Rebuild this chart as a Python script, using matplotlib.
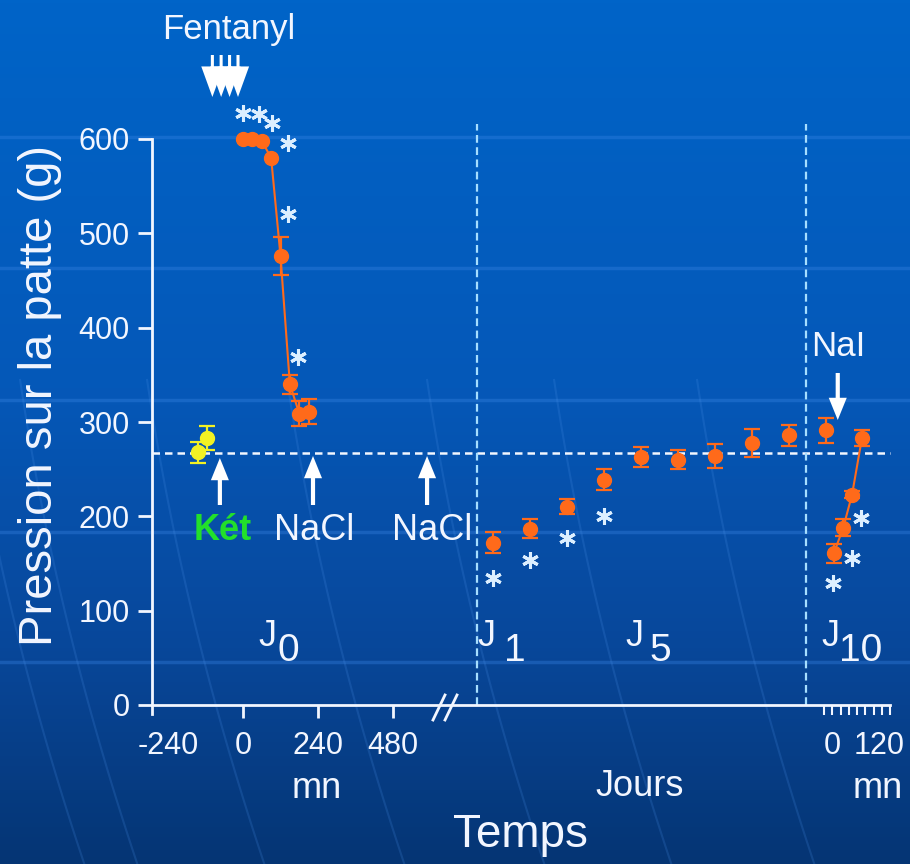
import numpy as np
import matplotlib.pyplot as plt
from matplotlib.patches import FancyArrowPatch, ArrowStyle
from matplotlib.colors import LinearSegmentedColormap

plt.rcParams['font.family'] = ['Liberation Sans', 'DejaVu Sans']

# ---- données (g) ----
# J0 : temps en minutes
ket_min = [-144, -115]
ket_val = [268, 283]
ket_err = [11, 13]

fent_min = [0, 30, 60, 90, 120, 150, 180, 210]
fent_val = [600, 600, 598, 580, 476, 340, 309, 311]
fent_err = [0, 0, 0, 0, 20, 10, 13, 13]
fent_star_min = [0, 51, 93, 144, 144, 176]
fent_star_val = [628, 627, 617, 596, 520, 369]

# J1 .. J10 : jours
days = [1, 2, 3, 4, 5, 6, 7, 8, 9, 10]
day_val = [172, 187, 210, 239, 263, 260, 264, 278, 286, 291]
day_err = [11, 10, 8, 11, 11, 10, 13, 15, 11, 13]
day_star = [1, 2, 3, 4]
day_star_val = [135, 154, 177, 200]

# J10 après NaI : minutes
nai_min = [18, 35, 51, 69]
nai_val = [161, 188, 223, 283]
nai_err = [10, 9, 4, 8]
nai_star_min = [16, 51, 67]
nai_star_val = [129, 156, 198]

baseline = 267

# injections
fent_inj = [-98, -70, -43, -16]
ket_inj = -74
nacl_inj = [224, 589]
nai_inj = 25

j0_ticks = [-240, 0, 240, 480]
j10_ticks = [0, 15, 30, 45, 60, 75, 90, 105, 120]
y_ticks = [0, 100, 200, 300, 400, 500, 600]

# ---- axe des temps composite (unités = pixels) ----
def x_mn(m):
    return 243 + np.asarray(m, float) * 75 / 240

def x_day(d):
    return 493 + (np.asarray(d, float) - 1) * 37

def x_j10(m):
    return 824 + np.asarray(m, float) * 66 / 120

W, H = 910, 864
Y0, K = 705, 566 / 600

def gy(py):
    return (Y0 - py) / K

WHITE = '#f2f6ff'
ORANGE = '#ff6a1a'
YELLOW = '#f2f224'
STAR = '#dcefff'

fig = plt.figure(figsize=(W / 100, H / 100), dpi=100)
ax = fig.add_axes([0, 0, 1, 1])
ax.set_xlim(0, W)
ax.set_ylim(gy(H), gy(0))

# fond dégradé
cmap = LinearSegmentedColormap.from_list('bg', [(0, '#0064c8'), (0.45, '#0558b8'),
                                               (0.75, '#08479a'), (1, '#053574')])
grad = np.linspace(0, 1, 256).reshape(-1, 1)
ax.imshow(grad, cmap=cmap, aspect='auto', extent=[0, W, gy(H), gy(0)],
          origin='upper', zorder=0)
for py in [137, 268, 400, 532, 662]:
    ax.axhline(gy(py), color='#3a86e6', alpha=0.35, lw=2.5, zorder=0.5)
for x0 in [40, 93, 220, 360, 500, 627, 770]:
    yy = np.linspace(380, H, 60)
    xx = x0 + (yy - 720) * 0.28 + ((yy - 720) / 144) ** 2 * 4
    ax.plot(xx, gy(yy), color='#4a90e8', alpha=0.2, lw=1.5, zorder=0.6)

# axes
for s in ['top', 'right']:
    ax.spines[s].set_visible(False)
ax.spines['left'].set_position(('data', 152))
ax.spines['left'].set_bounds(gy(714), 600)
ax.spines['bottom'].set_position(('data', 0))
ax.spines['bottom'].set_bounds(152, 890)
for s in ['left', 'bottom']:
    ax.spines[s].set_color(WHITE)
    ax.spines[s].set_linewidth(2)
    ax.spines[s].set_zorder(3)

ax.set_yticks(y_ticks)
ax.set_yticklabels([str(v) for v in y_ticks])
ax.set_xticks(x_mn(j0_ticks))
ax.set_xticklabels([str(v) for v in j0_ticks])
ax.set_xticks(x_j10(j10_ticks), minor=True)
ax.tick_params(axis='y', direction='out', length=10, width=2, color=WHITE,
               labelcolor=WHITE, labelsize=22, pad=6)
ax.tick_params(axis='x', which='major', direction='out', length=9, width=2,
               color=WHITE, labelcolor=WHITE, labelsize=22, pad=10)
ax.tick_params(axis='x', which='minor', direction='out', length=7, width=1.5,
               color=WHITE)
ax.xaxis.get_major_ticks()[0].tick1line.set_visible(False)

# lignes pointillées
ax.plot([152, 890], [baseline, baseline], color=WHITE, lw=1.8,
        ls=(0, (3, 2)), zorder=2)
for d in [0.57, 9.46]:
    ax.plot([x_day(d), x_day(d)], [0, gy(124)], color='#a6deff', lw=1.6,
            ls=(0, (3.5, 2)), zorder=2)

# coupure //
for dx in [0, 12]:
    ax.plot([433 + dx, 445 + dx], [gy(720), gy(695)], color=WHITE, lw=2, zorder=4)


def draw_series(x, y, err, color, line=True):
    x = np.asarray(x)
    y = np.asarray(y)
    err = np.asarray(err)
    if line:
        ax.plot(x, y, color=color, lw=1.5, zorder=4)
    m = err > 0
    ax.errorbar(x[m], y[m], yerr=err[m], fmt='none', ecolor=color, elinewidth=1.6,
                capsize=5.5, capthick=1.6, zorder=4)
    ax.plot(x, y, 'o', color=color, ms=10, zorder=5)


draw_series(x_mn(ket_min), ket_val, ket_err, YELLOW, line=False)
draw_series(x_mn(fent_min), fent_val, fent_err, ORANGE)
draw_series(x_day(days), day_val, day_err, ORANGE, line=False)
draw_series(x_j10(nai_min), nai_val, nai_err, ORANGE)

star_kw = dict(marker=(6, 2, 0), ls='none', color=STAR, ms=12, mew=2.2, zorder=6)
ax.plot(x_mn(fent_star_min), fent_star_val, **star_kw)
ax.plot(x_day(day_star), day_star_val, **star_kw)
ax.plot(x_j10(nai_star_min), nai_star_val, **star_kw)


def arrow(x, py_tail, py_head, hw=13, hl=16, tw=3):
    st = ArrowStyle('simple', head_length=hl, head_width=hw, tail_width=tw)
    ax.add_patch(FancyArrowPatch((x, gy(py_tail)), (x, gy(py_head)), arrowstyle=st,
                                 mutation_scale=1, color='white', lw=0,
                                 shrinkA=0, shrinkB=0, zorder=6))


for t in fent_inj:
    arrow(float(x_mn(t)), 55, 97, hw=16, hl=22, tw=2.2)
arrow(float(x_mn(ket_inj)), 505, 458)
for t in nacl_inj:
    arrow(float(x_mn(t)), 505, 456)
arrow(float(x_j10(nai_inj)), 373, 420)

# textes
def txt(x, py, s, size, **kw):
    kw.setdefault('color', WHITE)
    ax.text(x, gy(py), s, fontsize=size, ha='center', va='center', zorder=7, **kw)


txt(229, 29, 'Fentanyl', 25)
txt(223, 531, 'Két', 26, color='#22e02a', fontweight='bold')
txt(314, 531, 'NaCl', 26)
txt(432, 531, 'NaCl', 26)
txt(838, 346, 'NaI', 25)

for xj, xs, sub in [(267, 288, '0'), (486, 515, '1'), (634, 660, '5'), (830, 861, '10')]:
    txt(xj, 636, 'J', 26)
    txt(xs, 651, sub, 28)

txt(float(x_j10(15)), 746, '0', 22)
txt(float(x_j10(100)), 746, '120', 22)
txt(317, 789, 'mn', 26)
txt(640, 787, 'Jours', 26)
txt(878, 788, 'mn', 26)
txt(520, 835, 'Temps', 33)
txt(40, 395, 'Pression sur la patte (g)', 34, rotation=90)

fig.savefig('out.png', dpi=100)
